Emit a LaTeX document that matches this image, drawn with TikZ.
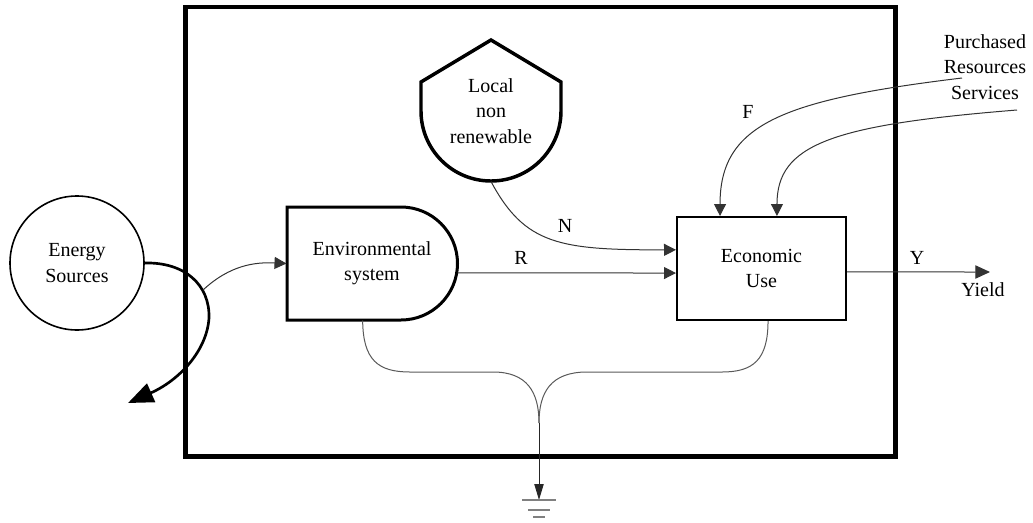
\documentclass[tikz,border=0pt]{standalone}
\usepackage{fontspec}
\setmainfont{Liberation Serif}
\usetikzlibrary{arrows.meta}
\tikzset{every picture/.style={line width=0.75pt}}
\tikzset{
  lbl/.style={inner sep=0.75pt, font=\fontsize{15}{19}\selectfont, align=center},
  flow/.style={color=black!80, line width=0.75pt, -{Triangle[length=9pt,width=9pt]}},
  sink/.style={color=black!65, line width=0.75pt},
}

\begin{document}
\begin{tikzpicture}[x=0.75pt,y=0.75pt,yscale=-1,xscale=1]
\useasboundingbox (0,0) rectangle (1033,522);
%System boundary
\draw [line width=3.6pt] (185.5,7) rectangle (895.5,456.5);
%Energy Sources
\node [lbl, draw, circle, line width=1.2pt, minimum size=100.5pt] (src) at (77,263) {Energy\\Sources};
%Environmental system (D shape)
\draw [line width=2.25pt] (287,207) -- (401,207) arc (-90:90:56.5) -- (287,320) -- cycle;
\node [lbl, minimum width=127.5pt, minimum height=84.75pt] (env) at (372,263.5) {Environmental\\system};
%Local non renewable (storage shield)
\draw [line width=2.6pt] (491,40) -- (561,82) -- (561,111) arc (0:180:70) -- (421,82) -- cycle;
\node [lbl, minimum width=105pt, minimum height=105pt] (loc) at (491,111) {Local\\non\\renewable};
%Economic Use
\node [lbl, draw, line width=1.5pt, minimum width=126.75pt, minimum height=77.25pt] (eco) at (761.5,268.5) {Economic\\Use};
%Free ends
\coordinate (tap) at (203,290);
\coordinate (lost) at (128,403);
\coordinate (buy1) at (962,78);
\coordinate (buy2) at (1017,110);
\coordinate (yield) at (990,272);
\coordinate (join) at (539,423);
\coordinate (ground) at (539,500);
%Energy flow crossing the boundary
\draw [line width=2pt, -{Triangle[length=19pt,width=15pt]}] (src.east) .. controls (185,262) and (210,285) .. (209,318) .. controls (207,350) and (180,380) .. (lost);
\draw [flow] (tap) .. controls (230,265) and (255,262) .. (env.west);
%Inputs to economic use
\draw [flow] (loc.south) .. controls (525,245) and (560,250) .. ([yshift=-14pt]eco.west);
\draw [flow] ([yshift=7pt]env.east) -- ([yshift=3.4pt]eco.west);
\draw [flow] (buy1) .. controls (780,100) and (720,125) .. ([xshift=-31.1pt]eco.north);
\draw [flow] (buy2) .. controls (830,125) and (777,145) .. ([xshift=11.6pt]eco.north);
\draw [flow, -{Triangle[length=11pt,width=10pt]}] ([yshift=2.6pt]eco.east) -- (yield);
%Heat sink
\draw [sink] ([xshift=-7pt]env.south) .. controls (363,360) and (378,372) .. (410,372) -- (493,372) .. controls (527,372) and (539,392) .. (join);
\draw [sink] ([xshift=4.9pt]eco.south) .. controls (768,360) and (753,372) .. (722,372) -- (587,372) .. controls (551,372) and (539,392) .. (join);
\draw [black!85, -{Triangle[length=12pt,width=7pt]}] (join) -- (ground);
\draw [gray, line width=1.5pt] (522,500) -- (556,500) (528,510) -- (550,510) (533,517) -- (545,517);
% Text Node
\node [lbl] (nlab) at (565,226) {N};
\node [lbl] (rlab) at (521,258) {R};
\node [lbl] (flab) at (748,112) {F};
\node [lbl] (ylab) at (917,258) {Y};
\node [lbl] (yieldlab) at (983,290) {Yield};
\node [lbl] (buylab) at (985,67) {Purchased\\Resources\\Services};
\end{tikzpicture}
\end{document}
